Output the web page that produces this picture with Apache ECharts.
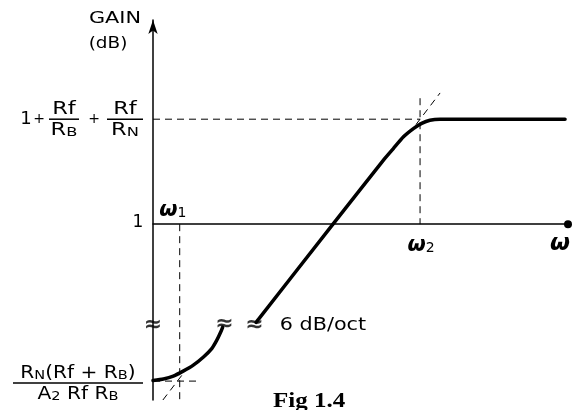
<!DOCTYPE html>
<html>
<head>
<meta charset="utf-8">
<script src="https://cdn.jsdelivr.net/npm/echarts@6/dist/echarts.min.js"></script>
<style>
html, body { margin: 0; padding: 0; background: #fff; }
#chart { width: 574px; height: 410px; }
</style>
</head>
<body>
<div id="chart"></div>
<script>
// x = octaves (w1 at 1, w2 at 10), y = gain in dB (0 = unity gain "1")
const xMax = 15.54;
const yMin = -33.5;
const yMax = 38.9;
const w1 = 1;
const w2 = 10;
const highLevel = 20;
const lowLevel = -29.9;

// the response
const upperCurve = [[3.86, -18.7], [6.74, 0], [8.63, 12.2], [9.0, 14.4], [9.37, 16.6], [9.75, 18.2], [10.06, 19.2], [10.37, 19.8], [10.75, 20], [15.43, 20]];
const lowerCurve = [[0, -29.8], [0.39, -29.5], [0.76, -28.95], [1.13, -28.0], [1.51, -26.85], [1.89, -25.3], [2.2, -23.7], [2.39, -22.1], [2.54, -20.5], [2.61, -19.6]];
const breaks = [[0, -19.2], [2.68, -19.0], [3.8, -19.3]];

// dashed construction lines
const w2Guide = [[w2, 24], [w2, 0]];
const highGuide = [[0, highLevel], [w2, highLevel]];
const highAsym = [[9.85, 19], [10.75, 25]];
const w1Guide = [[w1, 0], [w1, yMin]];
const lowGuide = [[0, lowLevel], [1.76, lowLevel]];
const lowAsym = [[0.37, yMin], [1.2, -28]];

const chart = echarts.init(document.getElementById('chart'));
const dashed = { color: '#000', width: 1, type: [7, 5] };
const guides = [w2Guide, highGuide, highAsym, w1Guide, lowGuide, lowAsym].map(d => ({
  type: 'line', data: d, symbol: 'none', lineStyle: dashed, silent: true
}));
const curve = d => ({
  type: 'line', data: d, symbol: 'none', smooth: 0.2,
  lineStyle: { color: '#000', width: 3.5, join: 'round', cap: 'round' }, silent: true
});

chart.setOption({
  animation: false,
  grid: { left: 153, right: 6, top: 20, bottom: 10 },
  xAxis: {
    type: 'value', min: 0, max: xMax,
    axisLine: { onZero: true, symbol: ['none', 'circle'], symbolSize: [8, 8], lineStyle: { color: '#000', width: 1.5 } },
    axisTick: { show: false }, axisLabel: { show: false }, splitLine: { show: false }
  },
  yAxis: {
    type: 'value', min: yMin, max: yMax,
    axisLine: { show: true, symbol: ['none', 'arrow'], symbolSize: [7, 14], lineStyle: { color: '#000', width: 1.5 } },
    axisTick: { show: false }, axisLabel: { show: false }, splitLine: { show: false }
  },
  series: guides.concat([
    curve(upperCurve),
    curve(lowerCurve),
    {
      type: 'scatter', data: breaks, symbolSize: 1, clip: false,
      itemStyle: { color: 'rgba(0,0,0,0)' },
      label: { show: true, position: 'inside', formatter: '\u2248', fontSize: 22, fontWeight: 'bold', color: '#000', fontFamily: 'DejaVu Sans' }
    }
  ])
});

// text annotations placed from the axis positions
const toPx = p => chart.convertToPixel({ gridIndex: 0 }, p);
const font = 'DejaVu Sans';
function txt(x, y, text, size, opts) {
  opts = opts || {};
  return {
    type: 'text', x: x, y: y, scaleX: opts.sx || 1, silent: true,
    style: {
      text: text, fill: '#000', fontSize: size, fontFamily: opts.family || font,
      fontWeight: opts.weight || 'normal', fontStyle: opts.style || 'normal',
      align: opts.align || 'center', verticalAlign: opts.va || 'middle',
      textAlign: opts.align || 'center', textVerticalAlign: opts.va || 'middle',
      rich: opts.rich
    }
  };
}
const rich = {
  b: { fontSize: 18, fontFamily: font, verticalAlign: 'bottom' },
  s: { fontSize: 13, fontFamily: font, verticalAlign: 'bottom' }
};
function frac(cx, cy, num, den, w, sx) {
  return [
    txt(cx, cy - 1, num, 18, { va: 'bottom', rich: rich, sx: sx }),
    { type: 'line', silent: true, shape: { x1: cx - w / 2, y1: cy, x2: cx + w / 2, y2: cy }, style: { stroke: '#000', lineWidth: 1.5 } },
    txt(cx, cy + 2, den, 18, { va: 'top', rich: rich, sx: sx })
  ];
}

const pTop = toPx([0, yMax]);
const pHi = toPx([0, highLevel]);
const pZero = toPx([0, 0]);
const pLo = toPx([0, lowLevel]);
const pw1 = toPx([w1, 0]);
const pw2 = toPx([w2, 0]);
const pEnd = toPx([xMax, 0]);
const pSlope = toPx([4.6, -19.3]);
const omega = {
  w: { fontSize: 21, fontStyle: 'italic', fontWeight: 'bold', fontFamily: font, verticalAlign: 'bottom' },
  n: { fontSize: 14, fontFamily: font, verticalAlign: 'bottom' }
};

const els = [
  txt(pTop[0] - 38, pTop[1] - 1, 'GAIN', 16, { sx: 1.3 }),
  txt(pTop[0] - 45, pTop[1] + 24, '(dB)', 16, { sx: 1.15 }),
  txt(26, pHi[1], '1', 18),
  txt(39, pHi[1], '+', 14),
  txt(94, pHi[1], '+', 14),
  txt(pZero[0] - 15, pZero[1] - 2, '1', 17),
  txt(pw1[0] - 7, pw1[1] - 14, '{w|\u03c9}{n|1}', 21, { rich: omega }),
  txt(pw2[0] + 1, pw2[1] + 21, '{w|\u03c9}{n|2}', 21, { rich: omega }),
  txt(pEnd[0] - 8, pEnd[1] + 20, '\u03c9', 23, { style: 'italic', weight: 'bold' }),
  txt(pSlope[0] + 4, pSlope[1], '6 dB/oct', 18, { align: 'left', sx: 1.15 }),
  txt(273, 402, 'Fig 1.4', 20, { align: 'left', family: 'Liberation Serif', weight: 'bold', sx: 1.25 })
].concat(
  frac(64, pHi[1], '{b|Rf}', '{b|R}{s|B}', 30, 1.25),
  frac(125, pHi[1], '{b|Rf}', '{b|R}{s|N}', 36, 1.25),
  frac(78, 383, '{b|R}{s|N}{b|(Rf + R}{s|B}{b|)}', '{b|A}{s|2}{b| Rf R}{s|B}', 130, 1.12)
);

chart.setOption({ graphic: els });
</script>
</body>
</html>
